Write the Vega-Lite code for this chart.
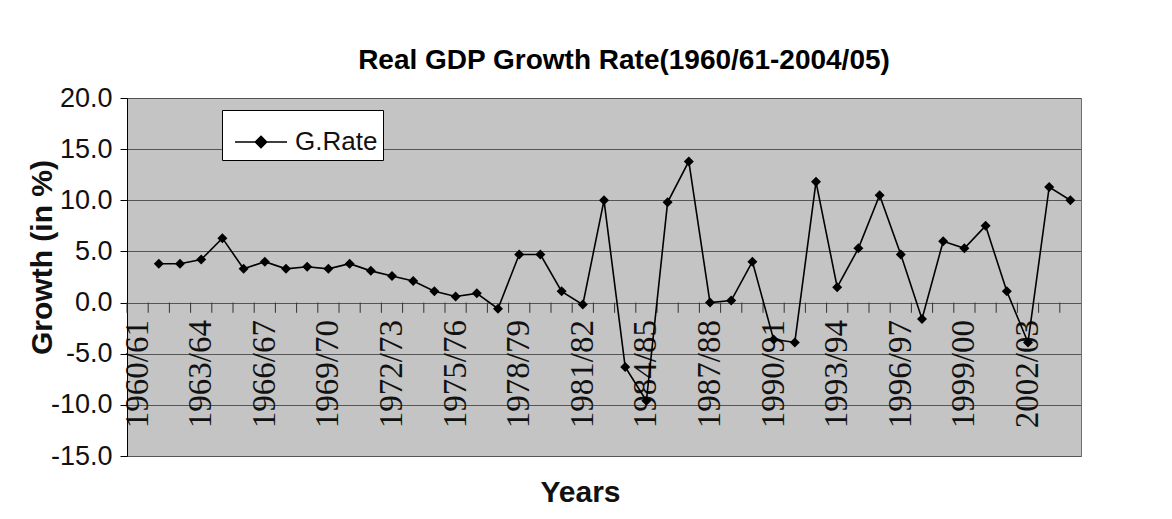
{
  "$schema": "https://vega.github.io/schema/vega-lite/v6.json",
  "width": 954,
  "height": 358,
  "autosize": {"type": "none"},
  "padding": {"left": 127, "top": 98, "right": 91, "bottom": 63},
  "background": "white",
  "title": {
    "text": "Real GDP Growth Rate(1960/61-2004/05)",
    "font": "Liberation Sans",
    "fontSize": 28,
    "fontWeight": "bold",
    "color": "black",
    "anchor": "middle",
    "frame": "group",
    "dx": 20,
    "offset": 9
  },
  "config": {
    "view": {"stroke": "#707070", "fill": "#c4c4c4"}
  },
  "data": {
    "values": [
      {"year": "1960/61", "rate": null, "series": "G.Rate"},
      {"year": "1961/62", "rate": 3.8, "series": "G.Rate"},
      {"year": "1962/63", "rate": 3.8, "series": "G.Rate"},
      {"year": "1963/64", "rate": 4.2, "series": "G.Rate"},
      {"year": "1964/65", "rate": 6.3, "series": "G.Rate"},
      {"year": "1965/66", "rate": 3.3, "series": "G.Rate"},
      {"year": "1966/67", "rate": 4.0, "series": "G.Rate"},
      {"year": "1967/68", "rate": 3.3, "series": "G.Rate"},
      {"year": "1968/69", "rate": 3.5, "series": "G.Rate"},
      {"year": "1969/70", "rate": 3.3, "series": "G.Rate"},
      {"year": "1970/71", "rate": 3.8, "series": "G.Rate"},
      {"year": "1971/72", "rate": 3.1, "series": "G.Rate"},
      {"year": "1972/73", "rate": 2.6, "series": "G.Rate"},
      {"year": "1973/74", "rate": 2.1, "series": "G.Rate"},
      {"year": "1974/75", "rate": 1.1, "series": "G.Rate"},
      {"year": "1975/76", "rate": 0.6, "series": "G.Rate"},
      {"year": "1976/77", "rate": 0.9, "series": "G.Rate"},
      {"year": "1977/78", "rate": -0.6, "series": "G.Rate"},
      {"year": "1978/79", "rate": 4.7, "series": "G.Rate"},
      {"year": "1979/80", "rate": 4.7, "series": "G.Rate"},
      {"year": "1980/81", "rate": 1.1, "series": "G.Rate"},
      {"year": "1981/82", "rate": -0.2, "series": "G.Rate"},
      {"year": "1982/83", "rate": 10.0, "series": "G.Rate"},
      {"year": "1983/84", "rate": -6.3, "series": "G.Rate"},
      {"year": "1984/85", "rate": -9.6, "series": "G.Rate"},
      {"year": "1985/86", "rate": 9.8, "series": "G.Rate"},
      {"year": "1986/87", "rate": 13.8, "series": "G.Rate"},
      {"year": "1987/88", "rate": 0.0, "series": "G.Rate"},
      {"year": "1988/89", "rate": 0.2, "series": "G.Rate"},
      {"year": "1989/90", "rate": 4.0, "series": "G.Rate"},
      {"year": "1990/91", "rate": -3.6, "series": "G.Rate"},
      {"year": "1991/92", "rate": -3.9, "series": "G.Rate"},
      {"year": "1992/93", "rate": 11.8, "series": "G.Rate"},
      {"year": "1993/94", "rate": 1.5, "series": "G.Rate"},
      {"year": "1994/95", "rate": 5.3, "series": "G.Rate"},
      {"year": "1995/96", "rate": 10.5, "series": "G.Rate"},
      {"year": "1996/97", "rate": 4.7, "series": "G.Rate"},
      {"year": "1997/98", "rate": -1.6, "series": "G.Rate"},
      {"year": "1998/99", "rate": 6.0, "series": "G.Rate"},
      {"year": "1999/00", "rate": 5.3, "series": "G.Rate"},
      {"year": "2000/01", "rate": 7.5, "series": "G.Rate"},
      {"year": "2001/02", "rate": 1.1, "series": "G.Rate"},
      {"year": "2002/03", "rate": -3.9, "series": "G.Rate"},
      {"year": "2003/04", "rate": 11.3, "series": "G.Rate"},
      {"year": "2004/05", "rate": 10.0, "series": "G.Rate"}
    ]
  },
  "resolve": {"axis": {"x": "independent"}},
  "layer": [
    {
      "mark": {"type": "rule", "color": "#333333", "strokeWidth": 1},
      "encoding": {
        "x": {
          "field": "year",
          "type": "ordinal",
          "bandPosition": 0,
          "sort": null,
          "scale": {"type": "band", "paddingInner": 0, "paddingOuter": 0},
          "axis": null
        },
        "y": {"datum": 0, "type": "quantitative"},
        "y2": {"datum": -1}
      }
    },
    {
      "mark": {
        "type": "line",
        "strokeWidth": 1.6,
        "point": {"shape": "diamond", "filled": true, "size": 100}
      },
      "encoding": {
        "x": {
          "field": "year",
          "type": "ordinal",
          "bandPosition": 0.5,
          "sort": null,
          "scale": {"type": "band", "paddingInner": 0, "paddingOuter": 0},
          "axis": {
            "labelExpr": "(toNumber(substring(datum.value,0,4)) - 1960) % 3 == 0 ? datum.value : ''",
            "labelAngle": -90,
            "labelFont": "Liberation Serif",
            "labelFontSize": 33,
            "labelColor": "#111111",
            "labelOverlap": false,
            "labelBound": false,
            "labelFlush": false,
            "ticks": false,
            "domain": false,
            "grid": false,
            "labelPadding": 17,
            "offset": -153.43,
            "title": "Years",
            "titleFont": "Liberation Sans",
            "titleFontSize": 30,
            "titleFontWeight": "bold",
            "titleColor": "#111111",
            "titleX": 453,
            "titleY": 199,
            "titleBaseline": "alphabetic",
            "titleAlign": "center"
          }
        },
        "y": {
          "field": "rate",
          "type": "quantitative",
          "scale": {"domain": [-15, 20], "nice": false, "zero": false},
          "axis": {
            "values": [-15, -10, -5, 0, 5, 10, 15, 20],
            "labelExpr": "replace(format(datum.value, '.1f'), '\u2212', '-')",
            "labelFont": "Liberation Sans",
            "labelFontSize": 27,
            "labelColor": "#111111",
            "labelPadding": 8,
            "tickSize": 7,
            "tickColor": "black",
            "domainColor": "black",
            "grid": true,
            "gridColor": "#555555",
            "gridWidth": 1,
            "title": "Growth (in %)",
            "titleFont": "Liberation Sans",
            "titleFontSize": 30,
            "titleFontWeight": "bold",
            "titleColor": "#111111",
            "titleAngle": -90,
            "titleX": -76,
            "titleY": 159,
            "titleBaseline": "alphabetic",
            "titleAlign": "center"
          }
        },
        "color": {
          "field": "series",
          "type": "nominal",
          "scale": {"range": ["black"]},
          "legend": {
            "orient": "none",
            "legendX": 95,
            "legendY": 12,
            "title": null,
            "fillColor": "white",
            "strokeColor": "black",
            "padding": 5,
            "symbolType": "M-1,0L1,0M0,-0.22L0.22,0L0,0.22L-0.22,0Z",
            "symbolSize": 2704,
            "symbolStrokeWidth": 1.5,
            "symbolFillColor": "black",
            "symbolStrokeColor": "black",
            "symbolOffset": 7,
            "labelFont": "Liberation Sans",
            "labelFontSize": 26,
            "labelColor": "#111111",
            "labelOffset": 7
          }
        }
      }
    }
  ]
}
